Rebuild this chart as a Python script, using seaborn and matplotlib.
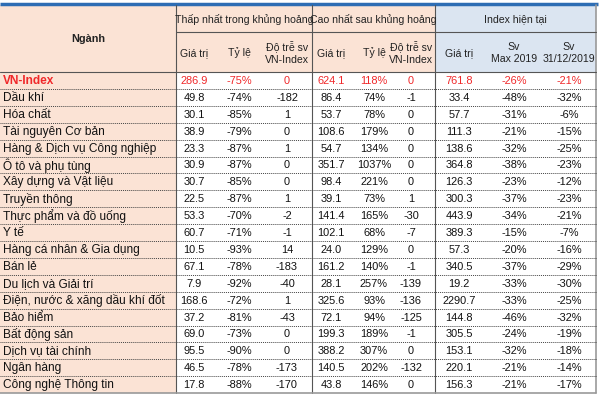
import numpy as np
import seaborn as sns
import matplotlib
matplotlib.use("Agg")
import matplotlib.pyplot as plt
from matplotlib.patches import Rectangle

# table data
nganh = ['VN-Index', 'Dầu khí', 'Hóa chất', 'Tài nguyên Cơ bản', 'Hàng & Dịch vụ Công nghiệp',
         'Ô tô và phụ tùng', 'Xây dựng và Vật liệu', 'Truyền thông', 'Thực phẩm và đồ uống',
         'Y tế', 'Hàng cá nhân & Gia dụng', 'Bán lẻ', 'Du lịch và Giải trí',
         'Điện, nước & xăng dầu khí đốt', 'Bảo hiểm', 'Bất động sản', 'Dịch vụ tài chính',
         'Ngân hàng', 'Công nghệ Thông tin']
low_val = [286.9, 49.8, 30.1, 38.9, 23.3, 30.9, 30.7, 22.5, 53.3, 60.7, 10.5, 67.1, 7.9,
           168.6, 37.2, 69.0, 95.5, 46.5, 17.8]
low_pct = [-75, -74, -85, -79, -87, -87, -85, -87, -70, -71, -93, -78, -92,
           -72, -81, -73, -90, -78, -88]
low_lag = [0, -182, 1, 0, 1, 0, 0, 1, -2, -1, 14, -183, -40, 1, -43, 0, 0, -173, -170]
high_val = [624.1, 86.4, 53.7, 108.6, 54.7, 351.7, 98.4, 39.1, 141.4, 102.1, 24.0, 161.2, 28.1,
            325.6, 72.1, 199.3, 388.2, 140.5, 43.8]
high_pct = [118, 74, 78, 179, 134, 1037, 221, 73, 165, 68, 129, 140, 257,
            93, 94, 189, 307, 202, 146]
high_lag = [0, -1, 0, 0, 0, 0, 0, 1, -30, -7, 0, -1, -139, -136, -125, -1, 0, -132, 0]
cur_val = [761.8, 33.4, 57.7, 111.3, 138.6, 364.8, 126.3, 300.3, 443.9, 389.3, 57.3, 340.5, 19.2,
           2290.7, 144.8, 305.5, 153.1, 220.1, 156.3]
cur_vs_max = [-26, -48, -31, -21, -32, -38, -23, -37, -34, -15, -20, -37, -33,
              -33, -46, -24, -32, -21, -21]
cur_vs_ye = [-21, -32, -6, -15, -25, -23, -12, -23, -21, -7, -16, -29, -30,
             -25, -32, -19, -18, -14, -17]

groups = ['Thấp nhất trong khủng hoảng', 'Cao nhất sau khủng hoảng', 'Index hiện tại']
sub_headers = ['Giá trị', 'Tỷ lệ', 'Độ trễ sv\nVN-Index',
               'Giá trị', 'Tỷ lệ', 'Độ trễ sv\nVN-Index',
               'Giá trị', 'Sv\nMax 2019', 'Sv\n31/12/2019']

sns.set_theme(style="white")
plt.rcParams['font.family'] = ['Liberation Sans', 'DejaVu Sans']

peach = '#fbe3d5'
blue = '#dbe5f1'
red = '#f0282a'

fig = plt.figure(figsize=(6, 4), dpi=100)
ax = fig.add_axes([0, 0, 1, 1])
ax.set_xlim(0, 600)
ax.set_ylim(400, 0)
ax.axis('off')

# layout in pixels
x_name_end, x_low_end, x_high_end, x_right = 176, 312, 435, 596
y_top, y_h1, y_h2 = 5, 32, 72
row_h = 16.9
n = len(nganh)
y_bot = y_h2 + n * row_h
col_x = [194, 239, 287, 331, 374, 411, 459, 514, 569]

# backgrounds
ax.add_patch(Rectangle((0, y_top), x_high_end, y_h2 - y_top, color=peach, lw=0))
ax.add_patch(Rectangle((x_high_end, y_top), x_right - x_high_end, y_h2 - y_top, color=blue, lw=0))
ax.add_patch(Rectangle((0, y_h2), x_name_end, y_bot - y_h2, color=peach, lw=0))
ax.plot([0, x_right + 2], [y_top - 1.5, y_top - 1.5], color='#2d6db4', lw=2.5, solid_capstyle='butt')

# grid lines
line_c = '#555555'
for x in [x_name_end, x_low_end, x_high_end]:
    ax.plot([x, x], [y_top, y_bot], color=line_c, lw=0.8)
ax.plot([x_right, x_right], [y_top, y_bot], color='#999999', lw=1.2)
ax.plot([x_name_end, x_right], [y_h1, y_h1], color=line_c, lw=0.8)
ax.plot([0, x_right], [y_h2, y_h2], color=line_c, lw=0.8)
for i in range(1, n):
    y = y_h2 + i * row_h
    ax.plot([0, x_right], [y, y], color='#444444', lw=0.7, ls=(0, (1, 1)))
ax.plot([0, x_right], [y_bot, y_bot], color='#999999', lw=1.2)

fs = 7.6
# headers
ax.text(x_name_end / 2, (y_top + y_h2) / 2 + 1, 'Ngành', ha='center', va='center', fontsize=fs + 0.2,
        fontweight='bold', color='#222222')
for g, (a, b) in zip(groups, [(x_name_end, x_low_end), (x_low_end, x_high_end), (x_high_end, x_right)]):
    ax.text((a + b) / 2, (y_top + y_h1) / 2 + 1, g, ha='center', va='center', fontsize=fs, color='#222222')
for x, h in zip(col_x, sub_headers):
    ax.text(x, (y_h1 + y_h2) / 2 + 1, h, ha='center', va='center', fontsize=fs,
            color='#222222', linespacing=1.35)

# body
for i in range(n):
    y = y_h2 + (i + 0.5) * row_h + 0.5
    c = red if i == 0 else '#111111'
    ax.text(3, y, nganh[i], ha='left', va='center', fontsize=8.6, color=c,
            fontweight='bold' if i == 0 else 'normal')
    cells = [f'{low_val[i]:.1f}', f'{low_pct[i]}%', f'{low_lag[i]}',
             f'{high_val[i]:.1f}', f'{high_pct[i]}%', f'{high_lag[i]}',
             f'{cur_val[i]:.1f}', f'{cur_vs_max[i]}%', f'{cur_vs_ye[i]}%']
    for x, t in zip(col_x, cells):
        ax.text(x, y, t, ha='center', va='center', fontsize=fs + 0.3, color=c)

fig.savefig('out.png', dpi=100)
